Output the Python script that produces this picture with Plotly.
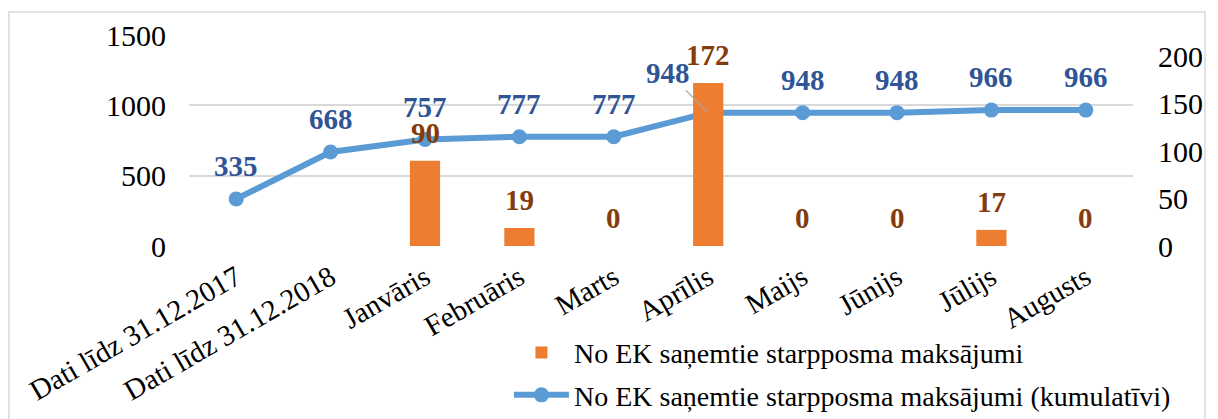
import plotly.graph_objects as go

categories = ["Dati līdz 31.12.2017", "Dati līdz 31.12.2018", "Janvāris", "Februāris",
              "Marts", "Aprīlis", "Maijs", "Jūnijs", "Jūlijs", "Augusts"]
monthly = [None, None, 90, 19, 0, 172, 0, 0, 17, 0]
cumulative = [335, 668, 757, 777, 777, 948, 948, 948, 966, 966]
bar_name = "No EK saņemtie starpposma maksājumi"
line_name = "No EK saņemtie starpposma maksājumi (kumulatīvi)"

FONT = "Liberation Serif"
BLUE_TXT = "#2F5597"
BROWN_TXT = "#843C0C"

fig = go.Figure()
fig.add_trace(go.Bar(x=categories, y=monthly, name=bar_name, yaxis="y2", legendgroup="a",
                     marker=dict(color="#ED7D31", line=dict(width=0)), width=0.32))
fig.add_trace(go.Scatter(x=categories, y=cumulative, name=line_name, mode="lines+markers",
                         legendgroup="b",
                         line=dict(color="#5B9BD5", width=6),
                         marker=dict(color="#5B9BD5", size=15)))

ann = []
for c, v in zip(categories, monthly):
    if v is None:
        continue
    ann.append(dict(x=c, y=v, xref="x", yref="y2", text=f"<b>{v}</b>", showarrow=False,
                    yshift=28, yanchor="middle", font=dict(family=FONT, size=29, color=BROWN_TXT)))
for c, v in zip(categories, cumulative):
    if c == "Aprīlis":
        ann.append(dict(x=c, y=v, xref="x", yref="y", text=f"<b>{v}</b>", showarrow=True,
                        arrowhead=0, arrowwidth=1.2, arrowcolor="#A6A6A6", ax=-40, ay=-40,
                        standoff=2, font=dict(family=FONT, size=29, color=BLUE_TXT)))
    else:
        ann.append(dict(x=c, y=v, xref="x", yref="y", text=f"<b>{v}</b>", showarrow=False,
                        yshift=33, yanchor="middle", font=dict(family=FONT, size=29, color=BLUE_TXT)))

# the page body has an 8px margin, so the figure is 8px smaller and margins are shifted
fig.update_layout(
    width=1210, height=411,
    margin=dict(l=181, r=85, t=27, b=173, autoexpand=False),
    paper_bgcolor="white", plot_bgcolor="white",
    font=dict(family=FONT, size=28, color="black"),
    showlegend=True,
    legend=dict(x=0.414, y=0.222, xref="container", yref="container",
                xanchor="left", yanchor="top", orientation="v", itemwidth=55,
                font=dict(family=FONT, size=28, color="black"), traceorder="grouped",
                bgcolor="rgba(0,0,0,0)", tracegroupgap=3),
    xaxis=dict(type="category", range=[-0.5, len(categories) - 0.5], tickangle=-30,
               showgrid=False, showline=False, zeroline=False,
               tickfont=dict(family=FONT, size=29), ticks="", automargin=False,
               ticklabelstandoff=8),
    yaxis=dict(range=[0, 1500], dtick=500, showgrid=True, gridcolor="#D9D9D9", gridwidth=1.5,
               zeroline=False, showline=False, tickfont=dict(family=FONT, size=30),
               ticklabelstandoff=22, automargin=False),
    yaxis2=dict(range=[0, 222.7], tickvals=[0, 50, 100, 150, 200], overlaying="y", side="right",
                showgrid=False, zeroline=False, showline=False, tickfont=dict(family=FONT, size=30),
                ticklabelstandoff=24, automargin=False),
    annotations=ann,
    shapes=[dict(type="rect", xref="paper", yref="paper", x0=-0.1907, x1=1.0763, y0=-0.86, y1=1.109,
                 line=dict(color="#D9D9D9", width=1.5), fillcolor="rgba(0,0,0,0)", layer="below")],
)

fig.write_html("out.html")
